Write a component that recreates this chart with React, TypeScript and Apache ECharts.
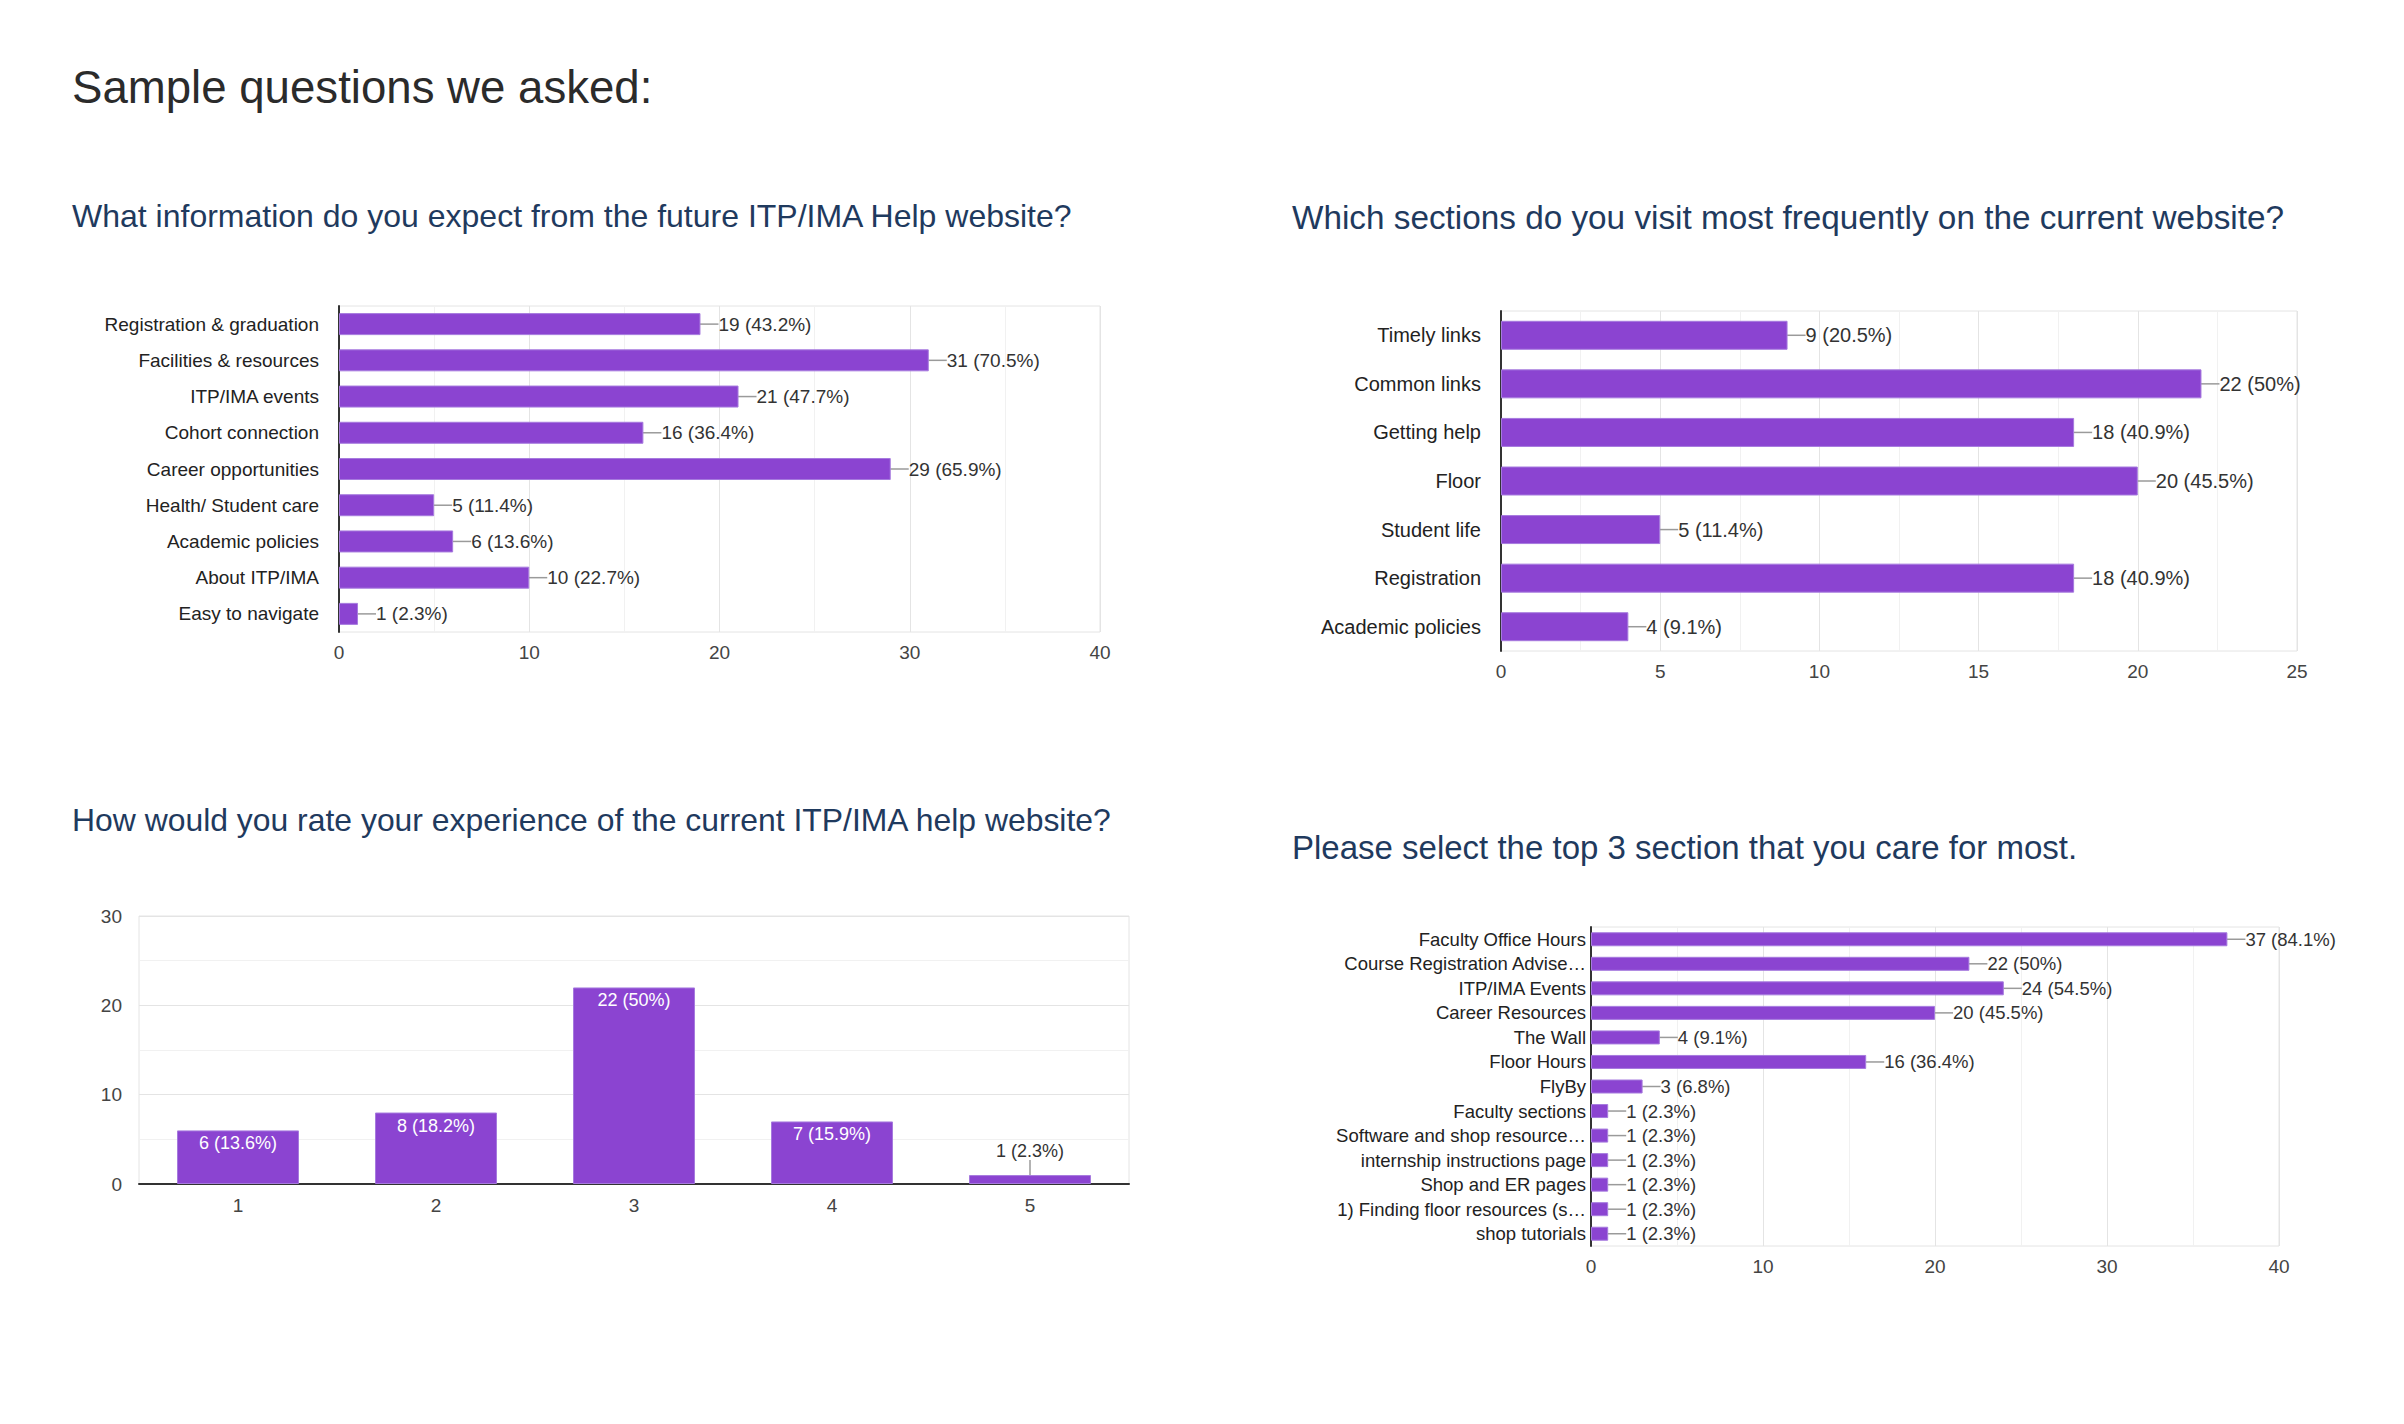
import React, { useEffect, useRef } from "react";
import * as echarts from "echarts";

// ---------- DATA ----------
const mainTitle = "Sample questions we asked:";
const q1Title = "What information do you expect from the future ITP/IMA Help website?";
const q2Title = "Which sections do you visit most frequently on the current website?";
const q3Title = "How would you rate your experience of the current ITP/IMA help website?";
const q4Title = "Please select the top 3 section that you care for most.";

const q1Categories = [
  "Registration & graduation",
  "Facilities & resources",
  "ITP/IMA events",
  "Cohort connection",
  "Career opportunities",
  "Health/ Student care",
  "Academic policies",
  "About ITP/IMA",
  "Easy to navigate",
];
const q1Values = [19, 31, 21, 16, 29, 5, 6, 10, 1];
const q1Percents = ["43.2%", "70.5%", "47.7%", "36.4%", "65.9%", "11.4%", "13.6%", "22.7%", "2.3%"];

const q2Categories = [
  "Timely links",
  "Common links",
  "Getting help",
  "Floor",
  "Student life",
  "Registration",
  "Academic policies",
];
const q2Values = [9, 22, 18, 20, 5, 18, 4];
const q2Percents = ["20.5%", "50%", "40.9%", "45.5%", "11.4%", "40.9%", "9.1%"];

const q3Categories = ["1", "2", "3", "4", "5"];
const q3Values = [6, 8, 22, 7, 1];
const q3Percents = ["13.6%", "18.2%", "50%", "15.9%", "2.3%"];

const q4Categories = [
  "Faculty Office Hours",
  "Course Registration Advise…",
  "ITP/IMA Events",
  "Career Resources",
  "The Wall",
  "Floor Hours",
  "FlyBy",
  "Faculty sections",
  "Software and shop resource…",
  "internship instructions page",
  "Shop and ER pages",
  "1) Finding floor resources (s…",
  "shop tutorials",
];
const q4Values = [37, 22, 24, 20, 4, 16, 3, 1, 1, 1, 1, 1, 1];
const q4Percents = ["84.1%", "50%", "54.5%", "45.5%", "9.1%", "36.4%", "6.8%", "2.3%", "2.3%", "2.3%", "2.3%", "2.3%", "2.3%"];

// ---------- STYLE ----------
const FONT = "Liberation Sans, Arial, sans-serif";
const PURPLE = "#8b44d1";
const BORDER = "#a67ade";
const TITLE_COLOR = "#1f3a5e";
const GRID_MAJOR = "#e4e4e4";
const GRID_MINOR = "#f1f1f1";

function hValueAxis(gridIndex: number, max: number, interval: number) {
  return {
    type: "value",
    gridIndex,
    min: 0,
    max,
    interval,
    axisLine: { show: false },
    axisTick: { show: false },
    axisLabel: { fontSize: 19, color: "#444", margin: 11, fontFamily: FONT },
    splitLine: { show: true, lineStyle: { color: GRID_MAJOR, width: 1 } },
    minorTick: { show: false, splitNumber: 2 },
    minorSplitLine: { show: true, lineStyle: { color: GRID_MINOR, width: 1 } },
  };
}

function hCatAxis(gridIndex: number, data: string[], fontSize: number, margin: number) {
  return {
    type: "category",
    gridIndex,
    data,
    inverse: true,
    axisLine: { show: true, onZero: false, lineStyle: { color: "#333", width: 2 } },
    axisTick: { show: false },
    axisLabel: { fontSize, color: "#222", margin, fontFamily: FONT, interval: 0 },
    splitLine: { show: false },
  };
}

function hBarSeries(idx: number, values: number[], pcts: string[], barWidth: number, fontSize: number) {
  return {
    type: "bar",
    xAxisIndex: idx,
    yAxisIndex: idx,
    data: values,
    barWidth,
    itemStyle: { color: PURPLE, borderColor: BORDER, borderWidth: 1 },
    label: {
      show: true,
      position: "right",
      distance: 0,
      fontSize,
      color: "#333",
      fontFamily: FONT,
      formatter: (p: any) => `${p.value} (${pcts[p.dataIndex]})`,
    },
    labelLayout: { dx: 18 },
    labelLine: { show: true, lineStyle: { color: "#9a9a9a", width: 1.5 } },
  };
}

export default function App() {
  const ref = useRef<HTMLDivElement>(null);

  useEffect(() => {
    if (!ref.current) return;
    const chart = echarts.init(ref.current, undefined, { renderer: "svg" });

    const titleStyle = (size: number, color: string) => ({
      fontSize: size,
      fontWeight: "normal",
      color,
      fontFamily: FONT,
    });

    const option: any = {
      animation: false,
      backgroundColor: "#ffffff",
      title: [
        { text: mainTitle, left: 72, top: 64, padding: 0, textStyle: titleStyle(45.6, "#2b2b2b") },
        { text: q1Title, left: 72, top: 200, padding: 0, textStyle: titleStyle(32, TITLE_COLOR) },
        { text: q2Title, left: 1292, top: 201, padding: 0, textStyle: titleStyle(33.3, TITLE_COLOR) },
        { text: q3Title, left: 72, top: 804, padding: 0, textStyle: titleStyle(31.9, TITLE_COLOR) },
        { text: q4Title, left: 1292, top: 831, padding: 0, textStyle: titleStyle(33, TITLE_COLOR) },
      ],
      grid: [
        { left: 339, top: 306, width: 761, height: 326, show: true, borderColor: GRID_MAJOR, borderWidth: 1 },
        { left: 1501, top: 311, width: 796, height: 340, show: true, borderColor: GRID_MAJOR, borderWidth: 1 },
        { left: 139, top: 916, width: 990, height: 268, show: true, borderColor: GRID_MAJOR, borderWidth: 1 },
        { left: 1591, top: 927, width: 688, height: 319, show: true, borderColor: GRID_MAJOR, borderWidth: 1 },
      ],
      xAxis: [
        hValueAxis(0, 40, 10),
        hValueAxis(1, 25, 5),
        {
          type: "category",
          gridIndex: 2,
          data: q3Categories,
          axisLine: { show: true, lineStyle: { color: "#333", width: 2 } },
          axisTick: { show: false },
          axisLabel: { fontSize: 19, color: "#444", margin: 12, fontFamily: FONT },
        },
        hValueAxis(3, 40, 10),
      ],
      yAxis: [
        hCatAxis(0, q1Categories, 19, 20),
        hCatAxis(1, q2Categories, 20, 20),
        {
          type: "value",
          gridIndex: 2,
          min: 0,
          max: 30,
          interval: 10,
          axisLine: { show: false },
          axisTick: { show: false },
          axisLabel: { fontSize: 19, color: "#444", margin: 17, fontFamily: FONT },
          splitLine: { show: true, lineStyle: { color: GRID_MAJOR, width: 1 } },
          minorTick: { show: false, splitNumber: 2 },
          minorSplitLine: { show: true, lineStyle: { color: GRID_MINOR, width: 1 } },
        },
        hCatAxis(3, q4Categories, 18.5, 5),
      ],
      series: [
        hBarSeries(0, q1Values, q1Percents, 22, 19),
        hBarSeries(1, q2Values, q2Percents, 29, 20),
        {
          type: "bar",
          xAxisIndex: 2,
          yAxisIndex: 2,
          barWidth: 122,
          itemStyle: { color: PURPLE, borderColor: BORDER, borderWidth: 1 },
          data: q3Values.map((v, i) =>
            i === q3Values.length - 1
              ? {
                  value: v,
                  label: { position: "top", distance: 4, color: "#333" },
                  labelLine: { show: true, lineStyle: { color: "#9a9a9a", width: 1.5 } },
                }
              : { value: v }
          ),
          label: {
            show: true,
            position: "insideTop",
            distance: 4,
            fontSize: 18,
            color: "#ffffff",
            fontFamily: FONT,
            formatter: (p: any) => `${p.value} (${q3Percents[p.dataIndex]})`,
          },
          labelLayout: (params: any) => (params.dataIndex === q3Values.length - 1 ? { dy: -11 } : {}),
          labelLine: { show: false },
        },
        hBarSeries(3, q4Values, q4Percents, 14, 18.5),
      ],
    };

    chart.setOption(option);
    return () => chart.dispose();
  }, []);

  return (
    <div
      ref={ref}
      style={{ position: "absolute", left: 0, top: 0, width: 2404, height: 1424, background: "#fff" }}
    />
  );
}
